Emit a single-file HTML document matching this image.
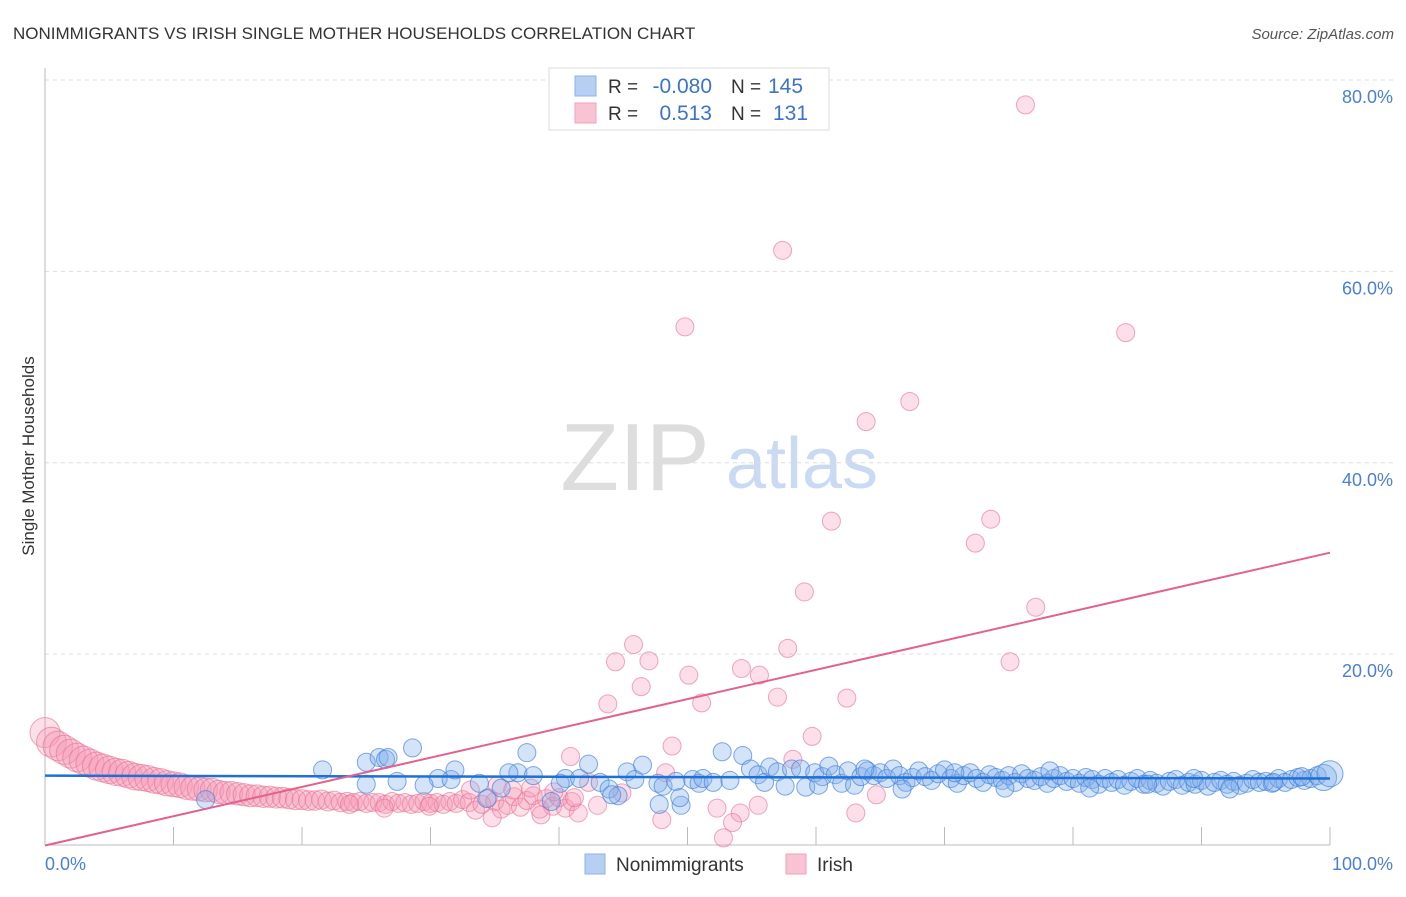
<!DOCTYPE html>
<html><head><meta charset="utf-8">
<style>
html,body{margin:0;padding:0;background:#fff;}
body{width:1406px;height:892px;overflow:hidden;font-family:"Liberation Sans",sans-serif;}
svg text{font-family:"Liberation Sans",sans-serif;}
</style></head>
<body>
<svg id="chart" width="1406" height="892" viewBox="0 0 1406 892" xmlns="http://www.w3.org/2000/svg">
<text x="13" y="39" font-size="17" fill="#333">NONIMMIGRANTS VS IRISH SINGLE MOTHER HOUSEHOLDS CORRELATION CHART</text>
<text x="1394" y="39" font-size="15" fill="#555" text-anchor="end" font-style="italic">Source: ZipAtlas.com</text>
<text transform="translate(34,456) rotate(-90)" font-size="17" fill="#333" text-anchor="middle">Single Mother Households</text>
<g>
<text x="635" y="490" font-size="96" fill="#ddd" text-anchor="middle" font-family="Liberation Serif,serif">ZIP</text>
<text x="802" y="488" font-size="72" fill="#c9daf2" text-anchor="middle">atlas</text>
</g>
<g id="grid"></g>
<g id="axes"></g>
<g id="points"></g>
<g id="lines"></g>
<g>
<rect x="549" y="68" width="280" height="62" fill="#fff" stroke="#ddd"/>
<rect x="575" y="76" width="21" height="20" fill="#b6cff2" stroke="#8fb1e6"/>
<rect x="575" y="103" width="21" height="20" fill="#f8c3d3" stroke="#eea0b8"/>
<text x="608" y="93" font-size="19" fill="#333">R = </text>
<text x="712" y="93" font-size="21" fill="#3b73c9" text-anchor="end">-0.080</text>
<text x="731" y="93" font-size="19" fill="#333">N = </text>
<text x="768" y="93" font-size="21" fill="#3b73c9">145</text>
<text x="608" y="120" font-size="19" fill="#333">R = </text>
<text x="712" y="120" font-size="21" fill="#3b73c9" text-anchor="end">0.513</text>
<text x="731" y="120" font-size="19" fill="#333">N = </text>
<text x="773" y="120" font-size="21" fill="#3b73c9">131</text>
</g>
<g>
<rect x="585" y="854" width="20" height="20" fill="#b6cff2" stroke="#8fb1e6"/>
<text x="616" y="871" font-size="19" fill="#333">Nonimmigrants</text>
<rect x="786" y="854" width="20" height="20" fill="#f8c3d3" stroke="#eea0b8"/>
<text x="817" y="871" font-size="19" fill="#333">Irish</text>
</g>
</svg>
<script>
const yTicks=[20,40,60,80];
const yTickLabels=["20.0%","40.0%","60.0%","80.0%"];
const xTicks=[0,10,20,30,40,50,60,70,80,90,100];
const xEndLabels=["0.0%","100.0%"];
const blueTrend=[7.3,7.0];
const pinkTrend=[0,30.6];
const blueX=[
12.5,21.6,25,26,26.5,26.7,28.6,25,27.4,30.6,
29.5,31.6,33.8,35.5,36.8,37.5,38,39.4,40.5,41.6,
42.3,43.2,43.9,44.6,45.3,45.9,46.5,47.7,48.1,49.1,
49.5,50.4,50.9,51.2,52,52.7,53.3,54.3,54.9,55.5,
56,56.4,57,57.6,58.1,58.8,59.2,59.9,
60.5,61,61.5,62,62.5,63,63.5,64,64.5,65,
65.5,66,66.5,67,67.5,68,68.5,69,69.5,70,
70.5,71,71.5,72,72.5,73,73.5,74,74.5,75,
75.5,76,76.5,77,77.5,78,78.5,79,79.5,80,
80.5,81,81.5,82,82.5,83,83.5,84,84.5,85,
85.5,86,86.5,87,87.5,88,88.5,89,89.5,90,
90.5,91,91.5,92,92.5,93,93.5,94,94.5,95,
95.5,96,96.5,97,97.5,98,98.5,99,99.5,100,
60.2,63.8,66.7,70.8,74.7,78.2,81.3,85.8,89.4,92.2,95.6,97.8,
49.4,47.8,44.1,40.1,36.1,34.4,31.9];
const blueY=[
4.8,7.9,8.7,9.2,9.0,9.2,10.2,6.4,6.7,7.0,
6.3,6.9,6.5,6.0,7.6,9.7,7.3,4.6,7.0,7.0,
8.5,6.6,5.9,5.2,7.7,6.9,8.4,6.5,6.2,6.7,
4.2,6.9,6.5,7.0,6.6,9.8,6.8,9.4,8.0,7.4,
6.6,8.2,7.7,6.2,8.0,8.0,6.1,7.6,
7.2,8.3,7.4,6.5,7.8,6.3,7.2,7.8,7.3,7.6,
7.0,8.0,7.3,6.6,7.1,7.8,7.2,6.8,7.5,7.9,
7.0,6.5,7.3,7.6,7.0,6.6,7.4,7.1,6.8,7.3,
6.6,7.5,7.0,6.8,7.2,6.5,7.0,7.3,6.7,7.0,
6.5,7.1,6.9,6.4,7.0,6.6,6.9,6.3,6.7,7.0,
6.4,6.8,6.5,6.2,6.7,6.9,6.3,6.6,6.4,6.8,
6.2,6.6,6.8,6.4,6.7,6.3,6.5,6.9,6.6,6.7,
6.5,7.0,6.6,6.9,7.1,6.8,7.0,7.3,7.1,7.5,
6.3,8.0,5.9,7.6,6.0,7.8,6.0,6.4,7.0,5.9,6.6,7.2,
5.0,4.3,5.3,6.5,7.6,4.9,7.9];
const pinkX=[0,0.5,1,1.5,2,2.5,3,3.5,4,4.5,5,5.5,6,6.5,7,7.5,8,8.5,9,9.5,10,10.5,11,11.5,12,12.5,13,13.5,14,14.5,15,15.5,16,16.5,17,17.5,18,18.5,19,19.5,20,20.5,21,21.5,22,22.5,23,23.5,24,24.5,25,25.5,26,26.5,27,27.5,28,28.5,29,29.5,30,30.5,31,31.5,32,32.5,33,33.5,34,34.5,35,35.5,36,36.5,37,37.5,38,38.5,39,39.5,40,40.5,41,41.5,42.3,43,48.3,76.3,57.4,49.8,84.1,67.3,63.9,61.2,73.6,72.4,59.1,77.1,45.8,57.8,44.4,47.0,75.1,54.2,50.1,55.6,46.4,57.0,62.4,43.8,51.1,59.7,48.8,40.9,58.2,64.7,63.1,52.3,48.0,54.1,53.5,52.8,55.5,35.2,37.8,39.6,33.1,29.9,26.4,23.7,44.9,41.2,38.6,36.4,34.8];
const pinkY=[11.8,10.8,10.4,10.0,9.6,9.2,8.9,8.6,8.3,8.1,7.9,7.7,7.6,7.4,7.2,7.1,7.0,6.8,6.7,6.5,6.4,6.3,6.1,6.0,5.9,5.8,5.8,5.6,5.5,5.5,5.4,5.3,5.2,5.2,5.1,5.1,5.0,5.0,4.9,4.8,4.8,4.7,4.7,4.8,4.6,4.7,4.5,4.6,4.5,4.6,4.4,4.5,4.5,4.3,4.6,4.4,4.5,4.3,4.4,4.6,4.4,4.5,4.3,4.6,4.4,4.8,4.5,3.7,4.3,5.0,4.6,3.8,4.2,5.1,4.0,4.7,5.2,3.8,4.9,4.1,5.0,3.9,4.6,3.4,6.6,4.2,7.6,77.4,62.2,54.2,53.6,46.4,44.3,33.9,34.1,31.6,26.5,24.9,21.0,20.6,19.2,19.3,19.2,18.5,17.8,17.8,16.6,15.5,15.4,14.8,14.9,11.4,10.4,9.3,9.0,5.3,3.4,3.9,2.7,3.4,2.4,0.8,4.2,6.3,6.0,5.6,5.8,4.1,3.9,4.3,5.5,5.0,3.2,5.8,2.9];

const X0=45,X1=1330,Y0=845.5,Y80=80;
const sx=v=>X0+(X1-X0)*v/100;
const sy=v=>Y0-(Y0-Y80)*v/80;
const NS="http://www.w3.org/2000/svg";
function mk(tag,attrs,parent){const e=document.createElementNS(NS,tag);for(const k in attrs)e.setAttribute(k,attrs[k]);parent.appendChild(e);return e;}
const grid=document.getElementById('grid'),axes=document.getElementById('axes'),pts=document.getElementById('points'),lines=document.getElementById('lines');
yTicks.forEach((t,i)=>{
  const l=mk('line',{x1:X0,x2:1395,y1:sy(t),y2:sy(t),stroke:'#ddd','stroke-dasharray':'4,4'},grid);
  
  
  const tx=mk('text',{x:1393,y:sy(t)+23,'font-size':18,fill:'#4a7fd4','text-anchor':'end'},axes);
  tx.textContent=yTickLabels[i];
  
  
});
const xa=mk('line',{x1:X0,x2:X1,y1:845,y2:845,stroke:'#bbb'},axes);


const ya=mk('line',{x1:X0,x2:X0,y1:68,y2:845,stroke:'#bbb'},axes);


xTicks.forEach(t=>{
  const l=mk('line',{x1:sx(t),x2:sx(t),y1:827,y2:845,stroke:'#bbb'},axes);
  
  
});
const xl0=mk('text',{x:45,y:870,'font-size':18,fill:'#4a7fd4'},axes);
xl0.textContent=xEndLabels[0];


const xl1=mk('text',{x:1393,y:870,'font-size':18,fill:'#4a7fd4','text-anchor':'end'},axes);
xl1.textContent=xEndLabels[1];


pinkX.forEach((x,i)=>{
  if(pinkY[i]===undefined)return;
  const r=x<25?Math.max(9,15-x*0.25):9;
  const c=mk('circle',{cx:sx(x),cy:sy(pinkY[i]),r:r,fill:'rgba(244,150,178,0.3)',stroke:'rgba(230,110,145,0.6)','stroke-width':1},pts);
  
  
});
blueX.forEach((x,i)=>{
  if(blueY[i]===undefined)return;
  const r=x>=99.5?13:9;
  const c=mk('circle',{cx:sx(x),cy:sy(blueY[i]),r:r,fill:'rgba(130,175,235,0.35)',stroke:'rgba(60,125,220,0.65)','stroke-width':1},pts);
  
  
});
const bl=mk('line',{x1:sx(0),y1:sy(blueTrend[0]),x2:sx(100),y2:sy(blueTrend[1]),stroke:'#1f6fd6','stroke-width':2.5},lines);


const pl=mk('line',{x1:sx(0),y1:sy(pinkTrend[0]),x2:sx(100),y2:sy(pinkTrend[1]),stroke:'#e2628e','stroke-width':2},lines);


</script>
</body></html>
